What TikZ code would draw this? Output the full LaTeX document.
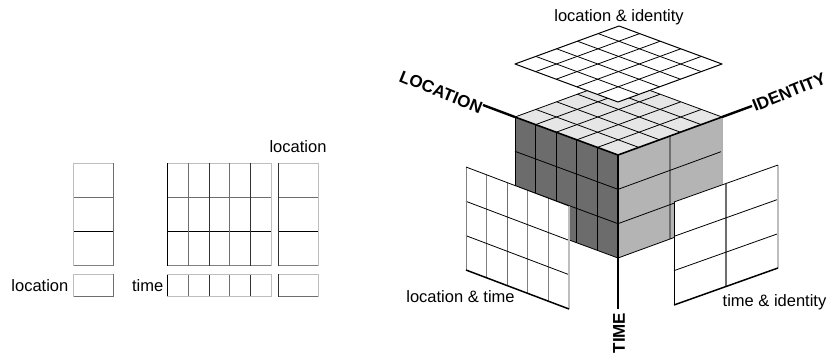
\documentclass[tikz,border=0pt]{standalone}
\usepackage{fontspec}
\setmainfont{Liberation Sans}
\usetikzlibrary{calc}
\definecolor{leftface}{RGB}{108,108,108}
\definecolor{rightface}{RGB}{180,180,180}
\definecolor{topface}{RGB}{230,230,230}
\definecolor{lightline}{RGB}{190,190,190}
\definecolor{midline}{RGB}{110,110,110}
\definecolor{darkline}{RGB}{50,50,50}
\begin{document}
\begin{tikzpicture}[x=1pt,y=-1pt,
  lbl/.style={font=\fontsize{16.5}{19}\selectfont, inner sep=0pt},
  axlbl/.style={font=\fontsize{17}{20}\selectfont\bfseries, inner sep=0pt},
  axisline/.style={line width=2.4pt, black},
  gl/.style={line width=0.8pt, black},
  edge/.style={line width=1.6pt, black, line cap=round, line join=round},
  tbl/.style={line width=1pt}
]
\useasboundingbox (0,0) rectangle (828,354);

% ---------------- left diagram ----------------
% column 1
\draw[tbl, lightline] (73.3,163.3) -- (113.3,163.3);
\draw[tbl, midline] (73.3,197.7) -- (113.3,197.7);
\draw[tbl, black] (73.3,231.7) -- (113.3,231.7);
\draw[tbl, gray] (73.3,265.7) -- (113.3,265.7);
\draw[tbl, lightline] (73.3,163.3) -- (73.3,265.7);
\draw[tbl, midline] (113.3,163.3) -- (113.3,265.7);
\draw[tbl, lightline] (73.3,274) -- (113.3,274);
\draw[tbl, midline] (73.3,296.7) -- (113.3,296.7);
\draw[tbl, lightline] (73.3,274) -- (73.3,296.7);
\draw[tbl, midline] (113.3,274) -- (113.3,296.7);
% middle grid
\draw[tbl, lightline] (167.3,163.3) -- (271.7,163.3);
\draw[tbl, midline] (167.3,197.7) -- (271.7,197.7);
\draw[tbl, black] (167.3,231.7) -- (271.7,231.7);
\draw[tbl, gray] (167.3,265.7) -- (271.7,265.7);
\foreach \x/\c in {167.3/black,188.3/midline,209/darkline,229.3/midline,250/darkline,271.7/lightline}{
  \draw[tbl, \c] (\x,163.3) -- (\x,265.7);
  \draw[tbl, \c] (\x,274) -- (\x,296.7);
}
\draw[tbl, lightline] (167.3,274) -- (271.7,274);
\draw[tbl, lightline] (167.3,296.7) -- (271.7,296.7);
% column 3
\draw[tbl, lightline] (278.3,163.3) -- (318.3,163.3);
\draw[tbl, midline] (278.3,197.7) -- (318.3,197.7);
\draw[tbl, black] (278.3,231.7) -- (318.3,231.7);
\draw[tbl, gray] (278.3,265.7) -- (318.3,265.7);
\draw[tbl, darkline] (278.3,163.3) -- (278.3,265.7);
\draw[tbl, lightline] (318.3,163.3) -- (318.3,265.7);
\draw[tbl, lightline] (278.3,274) -- (318.3,274);
\draw[tbl, midline] (278.3,296.7) -- (318.3,296.7);
\draw[tbl, darkline] (278.3,274) -- (278.3,296.7);
\draw[tbl, lightline] (318.3,274) -- (318.3,296.7);

\node[lbl] (tLoc) at (298,147) {location};
\node[lbl, anchor=east] (bLoc) at (68.5,285.5) {location};
\node[lbl, anchor=east] (bTime) at (163.5,285.5) {time};

% ---------------- cube ----------------
\coordinate (L) at (515,117);
\coordinate (F) at (618,155);
\coordinate (R) at (722,117);
\coordinate (B) at (619,79);
\coordinate (Lb) at (515,220);
\coordinate (Fb) at (618,258);
\coordinate (Rb) at (722,220);

% left face
\fill[leftface] (L) -- (F) -- (Fb) -- (Lb) -- cycle;
\foreach \i in {1,...,4}
  \draw[gl] ($(L)!\i/5!(F)$) -- ($(Lb)!\i/5!(Fb)$);
\foreach \j in {1,2}
  \draw[gl] ($(L)!\j/3!(Lb)$) -- ($(F)!\j/3!(Fb)$);
\draw[gl] (L) -- (Lb);
% right face
\fill[rightface] (F) -- (R) -- (Rb) -- (Fb) -- cycle;
\draw[line width=1.3pt, midline] ($(F)!1/2!(R)$) -- ($(Fb)!1/2!(Rb)$);
\foreach \j in {1,2}
  \draw[gl] ($(F)!\j/3!(Fb)$) -- ($(R)!\j/3!(Rb)$);
\draw[line width=1.2pt, lightline!80!gray] (R) -- (Rb);
\draw[gl] (Lb) -- (Fb) -- (Rb);
% top face
\fill[topface] (L) -- (F) -- (R) -- (B) -- cycle;
\foreach \i in {1,...,4}{
  \draw[gl] ($(L)!\i/5!(F)$) -- ($(B)!\i/5!(R)$);
  \draw[gl] ($(F)!\i/5!(R)$) -- ($(L)!\i/5!(B)$);
}
\draw[gl] (L) -- (B) -- (R);
\draw[edge] (L) -- (F) -- (R);
\draw[line width=1.3pt, black] (F) -- (Fb);

% floating panel: location & identity
\coordinate (pL) at (515,64);
\coordinate (pF) at (618,102);
\coordinate (pR) at (722,64);
\coordinate (pB) at (619,26);
\fill[white] (pL) -- (pF) -- (pR) -- (pB) -- cycle;
\foreach \i in {1,...,4}{
  \draw[gl] ($(pL)!\i/5!(pF)$) -- ($(pB)!\i/5!(pR)$);
  \draw[gl] ($(pF)!\i/5!(pR)$) -- ($(pL)!\i/5!(pB)$);
}
\draw[line width=1pt, black, line join=round] (pL) -- (pF) -- (pR) -- (pB) -- cycle;

% panel: location & time
\coordinate (tL) at (466,167);
\coordinate (tF) at (569,206);
\coordinate (tFb) at (569,309);
\coordinate (tLb) at (466,270);
\fill[white] (tL) -- (tF) -- (tFb) -- (tLb) -- cycle;
\foreach \i/\c in {1/gray,2/midline,3/gray,4/gray}
  \draw[line width=1pt, \c] ($(tL)!\i/5!(tF)$) -- ($(tLb)!\i/5!(tFb)$);
\foreach \j in {1,2}
  \draw[gl] ($(tL)!\j/3!(tLb)$) -- ($(tF)!\j/3!(tFb)$);
\draw[line width=1pt, gray] (tL) -- (tLb);
\draw[line width=1.2pt, lightline] (tF) -- (tFb);
\draw[gl] (tL) -- (tF);
\draw[line width=1.5pt, black] (tLb) -- (tFb);

% panel: time & identity
\coordinate (iF) at (674,202);
\coordinate (iR) at (778,165);
\coordinate (iRb) at (778,268);
\coordinate (iFb) at (674,305);
\fill[white] (iF) -- (iR) -- (iRb) -- (iFb) -- cycle;
\draw[line width=1.2pt, midline] ($(iF)!1/2!(iR)$) -- ($(iFb)!1/2!(iRb)$);
\foreach \j in {1,2}
  \draw[gl] ($(iF)!\j/3!(iFb)$) -- ($(iR)!\j/3!(iRb)$);
\draw[gl] (iF) -- (iFb);
\draw[line width=1.2pt, lightline] (iR) -- (iRb);
\draw[gl] (iF) -- (iR);
\draw[line width=1.5pt, black] (iFb) -- (iRb);

% axes
\coordinate (locEnd) at (483,105);
\coordinate (idEnd) at (752,106);
\coordinate (timeEnd) at (618,309);
\draw[axisline] (L) -- (locEnd);
\draw[axisline] (R) -- (idEnd);
\draw[axisline] (Fb) -- (timeEnd);

% labels
\node[lbl] (lblLI) at (619,17) {location \& identity};
\node[lbl] (lblLT) at (460.5,297) {location \& time};
\node[lbl] (lblTI) at (774.5,302) {time \& identity};
\node[axlbl, rotate=-22] (axLoc) at (441,92) {LOCATION};
\node[axlbl, rotate=22] (axId) at (789,92) {IDENTITY};
\node[axlbl, rotate=90] (axTime) at (619,333) {TIME};
\end{tikzpicture}
\end{document}
